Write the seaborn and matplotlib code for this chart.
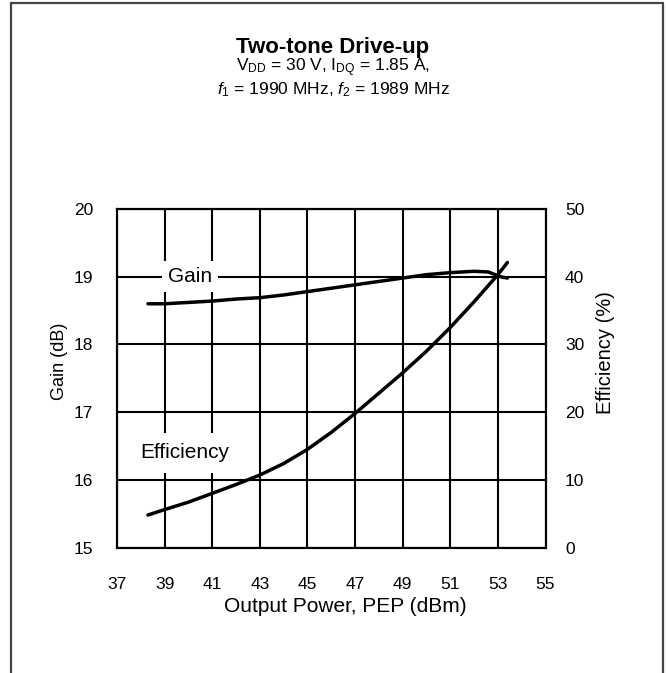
import matplotlib
matplotlib.use("Agg")
import matplotlib.pyplot as plt
import seaborn as sns
import pandas as pd
from matplotlib.lines import Line2D

# Gain curve (left axis, dB)
pout_gain = [38.3, 39.0, 40.0, 41.0, 42.0, 43.0, 44.0, 45.0, 46.0, 47.0,
             48.0, 49.0, 50.0, 51.0, 52.0, 52.6, 53.1, 53.4]
gain_db = [18.60, 18.60, 18.62, 18.64, 18.67, 18.69, 18.73, 18.78, 18.83, 18.88,
           18.93, 18.98, 19.03, 19.06, 19.08, 19.07, 19.00, 18.98]

# Efficiency curve (right axis, %)
pout_eff = [38.3, 39.0, 40.0, 41.0, 42.0, 43.0, 44.0, 45.0, 46.0, 47.0,
            48.0, 49.0, 50.0, 51.0, 52.0, 53.0, 53.4]
eff_pct = [4.8, 5.6, 6.7, 8.0, 9.3, 10.7, 12.4, 14.5, 17.0, 19.8,
           22.8, 25.8, 29.0, 32.5, 36.3, 40.3, 42.1]

x_ticks = [37, 39, 41, 43, 45, 47, 49, 51, 53, 55]
gain_ticks = [15, 16, 17, 18, 19, 20]
eff_ticks = [0, 10, 20, 30, 40, 50]

sns.set_style("white")
plt.rcParams["font.family"] = ["Liberation Sans", "DejaVu Sans"]
plt.rcParams["mathtext.fontset"] = "custom"
plt.rcParams["mathtext.rm"] = "Liberation Sans"
plt.rcParams["mathtext.it"] = "Liberation Sans:italic"
for key in ("text.color", "axes.labelcolor", "xtick.color", "ytick.color"):
    plt.rcParams[key] = "black"

W, H = 666, 673
fig = plt.figure(figsize=(W / 100, H / 100), dpi=100)
ax = fig.add_axes([117 / W, 1 - 547.5 / H, (545.5 - 117) / W, (547.5 - 209) / H])
ax2 = ax.twinx()

df_gain = pd.DataFrame({"pout": pout_gain, "gain": gain_db})
df_eff = pd.DataFrame({"pout": pout_eff, "eff": eff_pct})

sns.lineplot(data=df_gain, x="pout", y="gain", ax=ax, color="black",
             linewidth=2.5, zorder=5)
sns.lineplot(data=df_eff, x="pout", y="eff", ax=ax2, color="black",
             linewidth=2.5, zorder=5)

ax.set_xlim(37, 55)
ax.set_ylim(15, 20)
ax2.set_ylim(0, 50)
ax.set_xticks(x_ticks)
ax.set_yticks(gain_ticks)
ax2.set_yticks(eff_ticks)

ax.grid(True, color="black", linewidth=1.5)
ax.set_axisbelow(True)
for a in (ax, ax2):
    for s in a.spines.values():
        s.set_color("black")
        s.set_linewidth(1.5)

ax.tick_params(axis="y", length=0, pad=17, labelsize=12.5)
ax.tick_params(axis="x", length=0, pad=21, labelsize=12.5)
ax2.tick_params(axis="y", length=0, pad=14, labelsize=12.5)

ax.set_xlabel("Output Power, PEP (dBm)", fontsize=15)
ax.set_ylabel("Gain (dB)", fontsize=13)
ax2.set_ylabel("Efficiency (%)", fontsize=14.5)
ax.xaxis.set_label_coords(0.532, -0.147)
ax.yaxis.set_label_coords(-0.115, 0.55)
ax2.yaxis.set_label_coords(1.117, 0.575)

ax.text(40.07, 19.0, "Gain", fontsize=15, ha="center", va="center",
        bbox=dict(facecolor="white", edgecolor="none", boxstyle="square,pad=0.3"),
        zorder=3)
ax.text(39.86, 16.40, "Efficiency", fontsize=15, ha="center", va="center",
        bbox=dict(facecolor="white", edgecolor="none", boxstyle="square,pad=0.5"),
        zorder=3)

fig.text(0.5, 1 - 47 / H, "Two-tone Drive-up", fontsize=16, fontweight="bold",
         ha="center", va="center")
fig.text(0.5, 1 - 68 / H, r"V$_{\mathrm{DD}}$ = 30 V, I$_{\mathrm{DQ}}$ = 1.85 A,",
         fontsize=12.5, ha="center", va="center")
fig.text(0.5, 1 - 90 / H, r"$f_{1}$ = 1990 MHz, $f_{2}$ = 1989 MHz",
         fontsize=12.5, ha="center", va="center")

# outer frame of the figure
frame_kw = dict(transform=fig.transFigure, color="#444444", linewidth=1.6)
fig.add_artist(Line2D([11 / W, 11 / W], [0, 1 - 3 / H], **frame_kw))
fig.add_artist(Line2D([11 / W, 663 / W], [1 - 3 / H, 1 - 3 / H], **frame_kw))
fig.add_artist(Line2D([663 / W, 663 / W], [0, 1 - 3 / H], **frame_kw))

fig.savefig("out.png", dpi=100)
plt.close(fig)
